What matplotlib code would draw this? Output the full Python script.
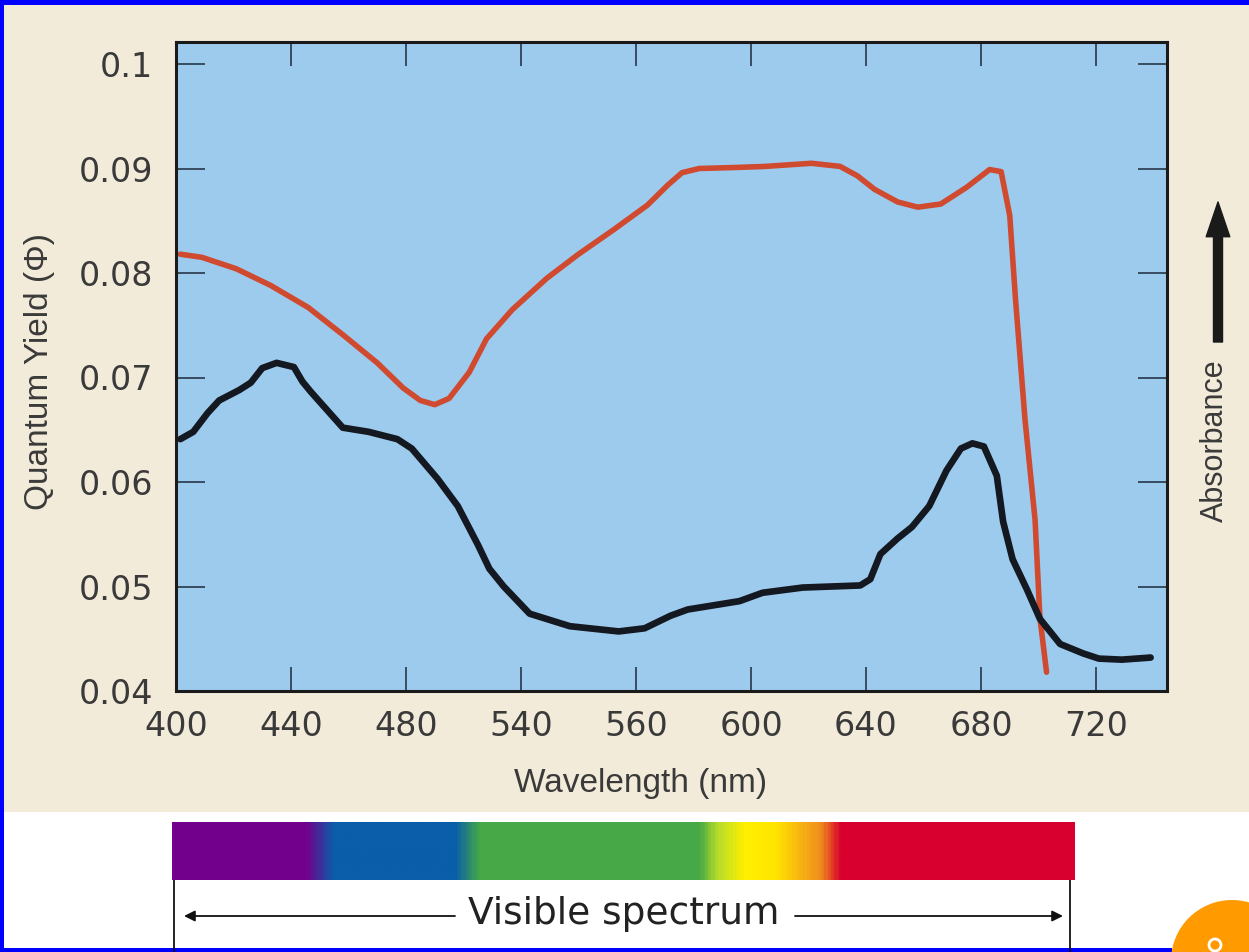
import numpy as np
import matplotlib
matplotlib.use('Agg')
import matplotlib.pyplot as plt
from matplotlib.colors import LinearSegmentedColormap
from matplotlib.patches import Rectangle, Circle

# axis ticks: evenly spaced, labelled as in the printed figure
x_ticks = [400, 440, 480, 520, 560, 600, 640, 680, 720]
x_tick_labels = ['400', '440', '480', '540', '560', '600', '640', '680', '720']
y_ticks = [0.04, 0.05, 0.06, 0.07, 0.08, 0.09, 0.1]
y_tick_labels = ['0.04', '0.05', '0.06', '0.07', '0.08', '0.09', '0.1']

# red curve
red_x = [401.5, 409, 421, 433, 446, 458, 470, 479, 485, 490, 495, 502, 508,
         517, 529, 540, 552, 564, 571, 576, 582, 595, 605, 621, 631, 637,
         643, 651, 658, 666, 675, 683, 687, 690, 692, 695.3, 698.8, 700.5,
         702.8]
red_y = [0.0818, 0.0815, 0.0804, 0.0788, 0.0767, 0.0741, 0.0714, 0.0690,
         0.0678, 0.0674, 0.0680, 0.0705, 0.0737, 0.0765, 0.0795, 0.0818,
         0.0841, 0.0865, 0.0884, 0.0896, 0.0900, 0.0901, 0.0902, 0.0905,
         0.0902, 0.0893, 0.0880, 0.0868, 0.0863, 0.0866, 0.0882, 0.0899,
         0.0897, 0.0855, 0.0775, 0.0660, 0.0564, 0.0470, 0.0418]

# black curve
black_x = [401.5, 406, 411, 415, 422, 426, 430, 435, 441, 444, 447, 458, 467,
           477, 482, 491, 498, 505, 509, 514, 523, 537, 554, 563, 572, 578,
           596, 604, 618, 638, 641.5, 645, 651, 656, 662, 668, 673, 677, 681,
           685.5, 687.7, 691, 696, 700.5, 707.5, 715.5, 721, 729, 739]
black_y = [0.0641, 0.0648, 0.0666, 0.0678, 0.0688, 0.0695, 0.0709, 0.0714,
           0.0710, 0.0696, 0.0686, 0.0652, 0.0648, 0.0641, 0.0632, 0.0603,
           0.0577, 0.0540, 0.0517, 0.0500, 0.0474, 0.0462, 0.0457, 0.0460,
           0.0472, 0.0478, 0.0486, 0.0494, 0.0499, 0.0501, 0.0507, 0.0531,
           0.0546, 0.0557, 0.0577, 0.0611, 0.0632, 0.0637, 0.0634, 0.0606,
           0.0562, 0.0526, 0.0497, 0.0469, 0.0445, 0.0436, 0.0431, 0.0430,
           0.0432]

# colour stops of the visible spectrum strip (fraction along the strip)
spectrum_stops = [0.0, 0.147, 0.178, 0.313, 0.340, 0.585, 0.605, 0.635,
                  0.670, 0.720, 0.742, 1.0]
spectrum_colors = ['#72008C', '#72008C', '#0A5EAA', '#0A5EAA', '#46A846',
                   '#46A846', '#B8DC2A', '#FFF000', '#FFE400', '#F08C1E',
                   '#D8002E', '#D8002E']

beige = '#F3EBDA'
plot_blue = '#9DCBEE'
text_col = '#3A3A3A'

W, H = 1249, 952
fig = plt.figure(figsize=(W / 100, H / 100), dpi=100, facecolor=beige)

# decoration layer in pixel coordinates, below everything else
bg = fig.add_axes([0, 0, 1, 1], zorder=-1)
bg.set_xlim(0, W)
bg.set_ylim(H, 0)
bg.axis('off')
bg.add_patch(Rectangle((0, 812), W, H - 812, color='white', lw=0))
bg.add_patch(Rectangle((0, 0), W, 5, color='#0000FF', lw=0))
bg.add_patch(Rectangle((0, 0), 4, H, color='#0000FF', lw=0))
bg.add_patch(Rectangle((0, H - 4), 1172, 4, color='#0000FF', lw=0))
bg.add_patch(Circle((1232, 961), 61, color='#FF9A00', lw=0))
bg.add_patch(Circle((1215, 945), 6, fill=False, ec='white', lw=2))

# visible spectrum strip and its bracket
cmap = LinearSegmentedColormap.from_list('spec', list(zip(spectrum_stops, spectrum_colors)))
sp = fig.add_axes([172 / W, 1 - 880 / H, 903 / W, 58 / H])
sp.imshow(np.linspace(0, 1, 600)[None, :], aspect='auto', cmap=cmap,
          extent=[0, 1, 0, 1])
sp.axis('off')
bg.plot([174, 174], [880, H], color='#111111', lw=1.3)
bg.plot([1070, 1070], [880, H], color='#111111', lw=1.3)
arrow_kw = dict(arrowstyle='-|>', color='#111111', lw=1.3, mutation_scale=16,
                shrinkA=0, shrinkB=0)
bg.annotate('', xy=(184, 916), xytext=(455, 916), arrowprops=arrow_kw)
bg.annotate('', xy=(1063, 916), xytext=(795, 916), arrowprops=arrow_kw)
bg.text(624, 914, 'Visible spectrum', ha='center', va='center', fontsize=27,
        color='#222222')

# absorbance arrow at the right
bg.annotate('', xy=(1218, 202), xytext=(1218, 342),
            arrowprops=dict(width=6.5, headwidth=17, headlength=25,
                            color='#1A1A1A', shrink=0))
bg.text(1215, 441, 'Absorbance', rotation=90, ha='center', va='center',
        fontsize=22, family='Liberation Sans', color=text_col)

# main plot
ax = fig.add_axes([176 / W, 1 - 691 / H, 991 / W, 649 / H], facecolor=plot_blue)
ax.plot(red_x, red_y, color='#CF4A2E', lw=4.0, solid_capstyle='round',
        solid_joinstyle='round')
ax.plot(black_x, black_y, color='#141820', lw=4.8, solid_capstyle='round',
        solid_joinstyle='round')

ax.set_xlim(400, 400 + 991 * 40 / 115)
ax.set_ylim(0.04, 0.04 + 649 / 10450)
ax.set_xticks(x_ticks)
ax.set_xticklabels(x_tick_labels)
ax.set_yticks(y_ticks)
ax.set_yticklabels(y_tick_labels)
ax.tick_params(direction='in', top=True, right=True, width=1.1,
               color='#1C2A3A', labelcolor=text_col, labelsize=24)
ax.tick_params(axis='x', length=17, pad=13.5)
ax.tick_params(axis='y', length=21, pad=16.5)
for s in ax.spines.values():
    s.set_linewidth(2.2)
    s.set_color('#1A1A1A')

ax.set_xlabel('Wavelength (nm)', fontsize=24, family='Liberation Sans',
              color=text_col)
ax.xaxis.set_label_coords(0.469, -0.118)
ax.set_ylabel('Quantum Yield (\u03a6)', fontsize=24, family='Liberation Sans',
              color=text_col)
ax.yaxis.set_label_coords(-0.122, 0.493)

fig.savefig('out.png', dpi=100, facecolor=beige)
